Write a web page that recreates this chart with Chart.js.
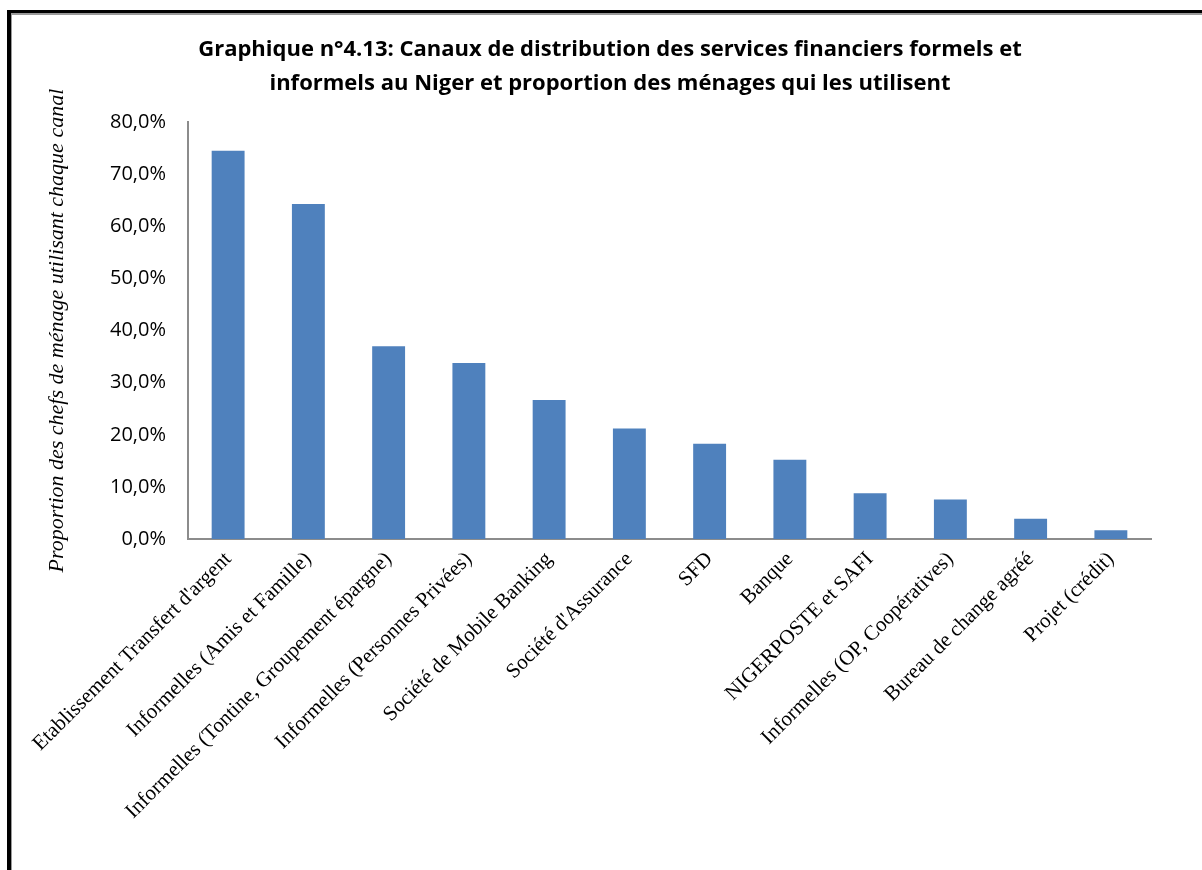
<!DOCTYPE html>
<html lang="fr">
<head>
<meta charset="utf-8">
<title>Graphique n°4.13</title>
<script src="https://cdn.jsdelivr.net/npm/chart.js@4.4.1/dist/chart.umd.min.js"></script>
<style>
    html, body { margin: 0; padding: 0; background: #ffffff; }
    #wrap { position: relative; width: 1202px; height: 870px; overflow: hidden; }
    #frame {
        position: absolute; left: 7px; top: 10px; width: 1300px; height: 858px;
        border-left: 4px solid #000; border-top: 3px solid #000; border-bottom: 1px solid #bdbdbd;
        box-shadow: inset 1px 2px 0 #9a9a9a;
        pointer-events: none;
    }
</style>
</head>
<body>
<div id="wrap">
    <canvas id="canauxChart" width="1202" height="870"></canvas>
    <div id="frame"></div>
</div>
<script>
// Canaux de distribution et proportion des ménages (en %)
const canaux = [
    "Etablissement Transfert d'argent",
    'Informelles (Amis et Famille)',
    'Informelles (Tontine, Groupement épargne)',
    'Informelles (Personnes Privées)',
    'Société de Mobile Banking',
    "Société d'Assurance",
    'SFD',
    'Banque',
    'NIGERPOSTE et SAFI',
    'Informelles (OP, Coopératives)',
    'Bureau de change agréé',
    'Projet (crédit)'
];
const proportions = [74.5, 64.3, 37.0, 33.8, 26.7, 21.2, 18.3, 15.2, 8.8, 7.6, 3.9, 1.7];

const titreLignes = [
    'Graphique n°4.13: Canaux de distribution des services financiers formels et',
    'informels au Niger et proportion des ménages qui les utilisent'
];
const titreAxeY = 'Proportion des chefs de ménage utilisant chaque canal';
const yMin = 0;
const yMax = 80;
const yPas = 10;

const ctx = document.getElementById('canauxChart');

new Chart(ctx, {
    type: 'bar',
    data: {
        labels: canaux,
        datasets: [{
            data: proportions,
            backgroundColor: '#4f81bd',
            borderWidth: 0,
            barPercentage: 0.41,
            categoryPercentage: 1
        }]
    },
    options: {
        responsive: false,
        animation: false,
        layout: {
            padding: { top: 0, left: 69, right: 51, bottom: 8 }
        },
        scales: {
            x: {
                grid: { display: false, drawTicks: false },
                border: { display: true, color: '#8c8c8c', width: 2 },
                ticks: {
                    color: '#000000',
                    maxRotation: 45,
                    minRotation: 45,
                    autoSkip: false,
                    padding: 8,
                    font: { family: '"Liberation Serif", "Times New Roman", serif', size: 21 }
                },
                afterFit: function (scale) {
                    scale.height = 323;
                }
            },
            y: {
                min: yMin,
                max: yMax,
                grid: { display: false, drawTicks: false },
                border: { display: true, color: '#8c8c8c', width: 2 },
                ticks: {
                    stepSize: yPas,
                    color: '#000000',
                    padding: 22,
                    font: { family: '"Open Sans", Lato, sans-serif', size: 20 },
                    callback: function (value) {
                        return value.toFixed(1).replace('.', ',') + '%';
                    }
                },
                title: {
                    display: true,
                    text: titreAxeY,
                    color: '#000000',
                    padding: { top: -25, bottom: 0 },
                    font: { family: '"Liberation Serif", "DejaVu Serif", serif', size: 22, style: 'italic' }
                },
                afterFit: function (scale) {
                    scale.width = 119;
                }
            }
        },
        plugins: {
            legend: { display: false },
            tooltip: { enabled: false },
            title: {
                display: true,
                text: titreLignes,
                color: '#000000',
                padding: { top: 33, bottom: 21 },
                font: { family: '"Open Sans", Lato, sans-serif', size: 22, weight: 'bold', lineHeight: 1.55 }
            }
        }
    }
});
</script>
</body>
</html>
